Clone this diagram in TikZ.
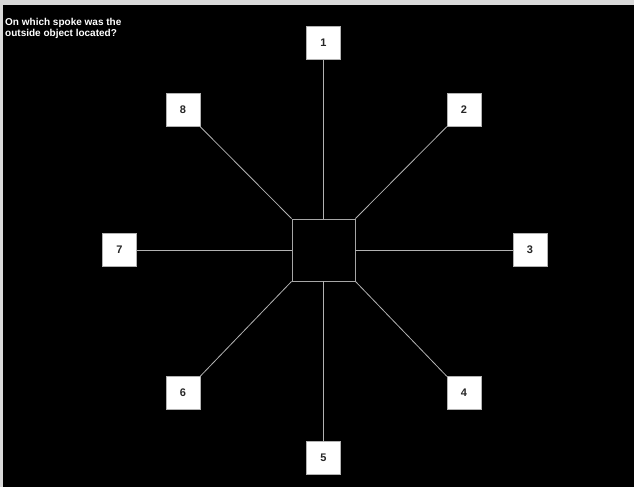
\documentclass[tikz,border=0pt]{standalone}
\usepackage{fontspec}
\setmainfont{Liberation Sans}
\usepackage{tikz}
\usetikzlibrary{positioning}

\tikzset{
  spokebox/.style={draw=gray!60, fill=white, minimum width=34pt, minimum height=33pt,
    inner sep=0pt, font=\bfseries\fontsize{11}{11}\selectfont, text=black!85},
  hubbox/.style={draw=gray!70, line width=0.9pt, fill=black, minimum width=63pt, minimum height=62pt, inner sep=0pt},
  spoke/.style={draw=gray!60, line width=0.8pt}
}

\begin{document}
\begin{tikzpicture}[x=1pt, y=-1pt]
  % Hintergrund
  \fill[gray!30] (0,0) rectangle (634,487);
  \fill[black] (3,5) rectangle (634,487);
  \useasboundingbox (0,0) rectangle (634,487);
  % Frage
  \node[anchor=north west, align=left, text=white, inner sep=0pt,
    font=\bfseries\fontsize{10}{10.5}\selectfont] (question) at (5,18.5)
    {On which spoke was the\\outside object located?};
  % Nabe und Speichen
  \node[hubbox] (hub) at (323.5,250) {};
  \node[spokebox] (lab1) at (323.5,43) {1};
  \node[spokebox] (lab2) at (464,110) {2};
  \node[spokebox] (lab3) at (530,250) {3};
  \node[spokebox] (lab4) at (464,393) {4};
  \node[spokebox] (lab5) at (323.5,458) {5};
  \node[spokebox] (lab6) at (183,393) {6};
  \node[spokebox] (lab7) at (119.5,250) {7};
  \node[spokebox] (lab8) at (183,110) {8};
  \draw[spoke] (hub.north) -- (lab1.south);
  \draw[spoke] (hub.north east) -- (lab2.south west);
  \draw[spoke] (hub.east) -- (lab3.west);
  \draw[spoke] (hub.south east) -- (lab4.north west);
  \draw[spoke] (hub.south) -- (lab5.north);
  \draw[spoke] (hub.south west) -- (lab6.north east);
  \draw[spoke] (hub.west) -- (lab7.east);
  \draw[spoke] (hub.north west) -- (lab8.south east);
\end{tikzpicture}
\end{document}
